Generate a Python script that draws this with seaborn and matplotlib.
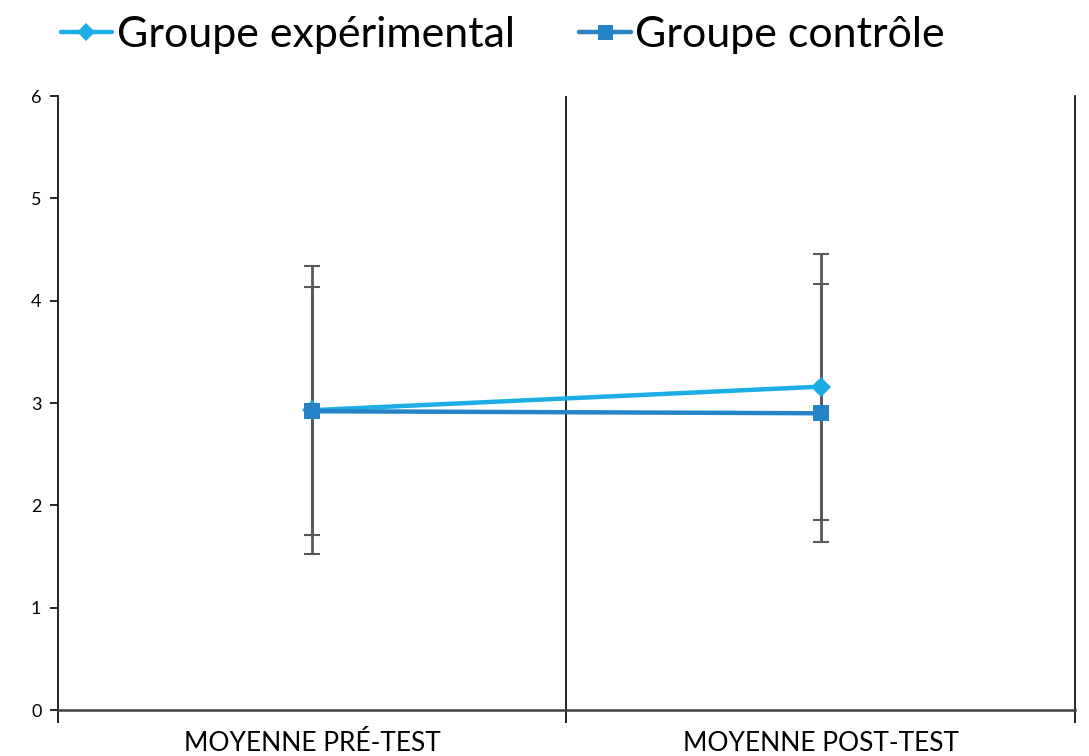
import matplotlib
matplotlib.use("Agg")
import matplotlib.pyplot as plt
import numpy as np
import pandas as pd
import seaborn as sns

# data
categories = ["MOYENNE PRÉ-TEST", "MOYENNE POST-TEST"]
groups = ["Groupe expérimental", "Groupe contrôle"]
exp_mean = [2.93, 3.16]
exp_sd = [1.41, 1.30]
ctl_mean = [2.92, 2.90]
ctl_sd = [1.21, 1.26]

colors = {"Groupe expérimental": "#1CADE4", "Groupe contrôle": "#2683C6"}
markers = {"Groupe expérimental": "D", "Groupe contrôle": "s"}
msizes = {"Groupe expérimental": 10, "Groupe contrôle": 12}

df = pd.DataFrame({
    "pos": [0, 1, 0, 1],
    "mean": exp_mean + ctl_mean,
    "sd": exp_sd + ctl_sd,
    "group": [groups[0]] * 2 + [groups[1]] * 2,
})

sns.set_style("white")
plt.rcParams["font.family"] = ["Lato", "DejaVu Sans"]
plt.rcParams["text.color"] = "black"
plt.rcParams["xtick.color"] = "black"
plt.rcParams["ytick.color"] = "black"

fig = plt.figure(figsize=(10.89, 7.56), dpi=100)
ax = fig.add_axes([0.0533, 0.0608, 0.9337, 0.8122])

# error bars (standard deviations)
for g in groups:
    sub = df[df.group == g]
    ax.errorbar(sub["pos"], sub["mean"], yerr=sub["sd"], fmt="none",
                ecolor="#595959", elinewidth=2, capsize=6, capthick=1.5, zorder=2)

# lines with markers
for g in groups:
    sub = df[df.group == g]
    sns.lineplot(data=sub, x="pos", y="mean", ax=ax, color=colors[g],
                 marker=markers[g], markersize=msizes[g], markeredgewidth=0,
                 linewidth=3.2, label=g, zorder=3, legend=False)

ax.set_xlim(-0.5, 1.5)
ax.set_ylim(0, 6)
ax.set_yticks(range(0, 7))
ax.set_xlabel("")
ax.set_ylabel("")

# category separators
ax.axvline(0.5, color="black", linewidth=1.2)
ax.set_xticks([-0.5, 0.5, 1.5])
ax.set_xticklabels([])
ax.set_xticks([0, 1], minor=True)
ax.set_xticklabels(categories, minor=True, fontsize=19)
ax.tick_params(axis="x", which="major", direction="out", length=9, width=1.2,
               color="black", bottom=True)
ax.tick_params(axis="x", which="minor", length=0, pad=15, labelcolor="black")
ax.tick_params(axis="y", direction="out", length=6, width=1.2, color="black",
               left=True, labelsize=13, pad=6, labelcolor="black")

for side in ["left", "right", "bottom"]:
    ax.spines[side].set_visible(True)
    ax.spines[side].set_color("black")
    ax.spines[side].set_linewidth(1.2)
ax.spines["top"].set_visible(False)
ax.spines["bottom"].set_color("#404040")
ax.spines["bottom"].set_linewidth(1.8)

handles, labels = ax.get_legend_handles_labels()
fig.legend(handles, labels, loc="upper left", bbox_to_anchor=(0.02, 1.03),
           ncol=2, frameon=False, fontsize=31, handlelength=1.2,
           handletextpad=0.1, columnspacing=1.5, markerscale=0.9,
           labelcolor="black")

fig.savefig("out.png", dpi=100)
